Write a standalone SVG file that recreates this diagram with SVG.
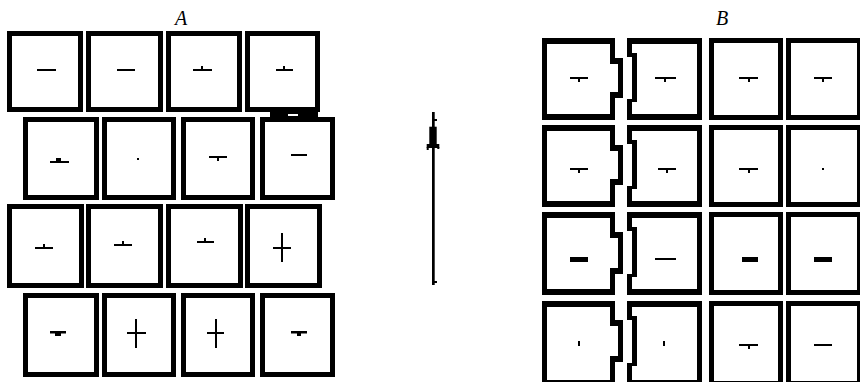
<svg xmlns="http://www.w3.org/2000/svg" width="860" height="382" viewBox="0 0 860 382">
<style>
.box{fill:none;stroke:#000;stroke-width:5}
.bx{fill:#000;fill-rule:evenodd}
.m{fill:#000}
.lbl{font-family:"Liberation Serif",serif;font-style:italic;font-size:20px;fill:#000;text-anchor:middle}
</style>
<rect width="860" height="382" fill="#fff"/>
<text class="lbl" x="181" y="25">A</text>
<text class="lbl" x="722" y="25">B</text>
<g id="A">
 <g id="a11"><rect class="box" x="9.5" y="33.5" width="71" height="76"/><rect class="m" x="37" y="69" width="19" height="2"/></g>
 <g id="a12"><rect class="box" x="88.5" y="33.5" width="72" height="76"/><rect class="m" x="117" y="69" width="18" height="2"/></g>
 <g id="a13"><rect class="box" x="168.5" y="33.5" width="71" height="76"/><rect class="m" x="193" y="69" width="19" height="2"/><rect class="m" x="201" y="66" width="2" height="3"/></g>
 <g id="a14"><rect class="box" x="247.5" y="33.5" width="70" height="76"/><rect class="m" x="276" y="69" width="17" height="2"/><rect class="m" x="283" y="66" width="2" height="3"/>
  <rect class="m" x="270" y="111" width="48" height="7"/><rect x="288" y="114" width="10" height="2" fill="#fff"/></g>
 <g id="a21"><rect class="box" x="25.5" y="119.5" width="71" height="78"/><rect class="m" x="50" y="161" width="19" height="2"/><rect class="m" x="56" y="158" width="5" height="3"/></g>
 <g id="a22"><rect class="box" x="104.5" y="119.5" width="69" height="78"/><rect class="m" x="137" y="158" width="2" height="2"/></g>
 <g id="a23"><rect class="box" x="183.5" y="119.5" width="69" height="78"/><rect class="m" x="209" y="156" width="18" height="2"/><rect class="m" x="217" y="158" width="2" height="3"/></g>
 <g id="a24"><rect class="box" x="262.5" y="119.5" width="70" height="78"/><rect class="m" x="291" y="154" width="16" height="2"/></g>
 <g id="a31"><rect class="box" x="9.5" y="206.5" width="72" height="79"/><rect class="m" x="35" y="247" width="18" height="2"/><rect class="m" x="43" y="244" width="2" height="3"/></g>
 <g id="a32"><rect class="box" x="88.5" y="206.5" width="72" height="79"/><rect class="m" x="114" y="244" width="18" height="2"/><rect class="m" x="122" y="241" width="2" height="3"/></g>
 <g id="a33"><rect class="box" x="168.5" y="206.5" width="72" height="79"/><rect class="m" x="197" y="241" width="17" height="2"/><rect class="m" x="204" y="238" width="2" height="3"/></g>
 <g id="a34"><rect class="box" x="247.5" y="206.5" width="72" height="79"/><rect class="m" x="273" y="247" width="18" height="2"/><rect class="m" x="281" y="233" width="2" height="29"/></g>
 <g id="a41"><rect class="box" x="25.5" y="295.5" width="71" height="79"/><rect class="m" x="50" y="331" width="16" height="2.5"/><rect class="m" x="55" y="333" width="6" height="3"/></g>
 <g id="a42"><rect class="box" x="104.5" y="295.5" width="69" height="79"/><rect class="m" x="127" y="332" width="19" height="2"/><rect class="m" x="135" y="319" width="2" height="29"/></g>
 <g id="a43"><rect class="box" x="183.5" y="295.5" width="69" height="79"/><rect class="m" x="207" y="332" width="17" height="2"/><rect class="m" x="215" y="319" width="2" height="29"/></g>
 <g id="a44"><rect class="box" x="262.5" y="295.5" width="70" height="79"/><rect class="m" x="291" y="331" width="16" height="2.5"/><rect class="m" x="297" y="333" width="4" height="3"/></g>
</g>
<g id="arrow">
 <rect class="m" x="432" y="112" width="2.7" height="173"/>
 <rect class="m" x="433" y="119" width="4" height="2"/>
 <rect class="m" x="429.3" y="126.7" width="7.4" height="20"/>
 <rect class="m" x="426.7" y="144" width="12.6" height="4"/>
 <rect class="m" x="426.7" y="147" width="2" height="3"/>
 <rect class="m" x="437.3" y="147" width="2" height="2"/>
 <rect class="m" x="433" y="281" width="4" height="2"/>
</g>
<g id="B">
 <g id="b11"><path class="bx" d="M542,38H615V58H623V98H615V120H542Z M547,44H610V64H618V92H610V114H547Z"/><rect class="m" x="570" y="77" width="18" height="2"/><rect class="m" x="578" y="79" width="2" height="3"/></g>
 <g id="b12"><path class="bx" d="M627,38H702V120H627V99H632V57H627Z M632,44H697V114H632V102H637V53H632Z"/><rect class="m" x="655" y="77" width="21" height="2"/><rect class="m" x="664" y="79" width="2" height="3"/></g>
 <g id="b13"><rect class="box" x="711.5" y="40.5" width="69" height="77"/><rect class="m" x="739" y="77" width="19" height="2"/><rect class="m" x="748" y="79" width="2" height="3"/></g>
 <g id="b14"><rect class="box" x="788.5" y="40.5" width="71" height="77"/><rect class="m" x="814" y="77" width="18" height="2"/><rect class="m" x="822" y="79" width="2" height="3"/></g>

 <g id="b21"><path class="bx" d="M542,125H615V145H623V185H615V207H542Z M547,131H610V151H618V179H610V201H547Z"/><rect class="m" x="570" y="168" width="18" height="2"/><rect class="m" x="578" y="170" width="2" height="3"/></g>
 <g id="b22"><path class="bx" d="M627,125H702V207H627V186H632V144H627Z M632,131H697V201H632V189H637V140H632Z"/><rect class="m" x="658" y="168" width="18" height="2"/><rect class="m" x="666" y="170" width="2" height="3"/></g>
 <g id="b23"><rect class="box" x="711.5" y="127.5" width="69" height="77"/><rect class="m" x="739" y="168" width="19" height="2"/><rect class="m" x="748" y="170" width="2" height="3"/></g>
 <g id="b24"><rect class="box" x="788.5" y="127.5" width="71" height="77"/><rect class="m" x="822" y="168" width="2" height="2"/></g>

 <g id="b31"><path class="bx" d="M542,212H615V232H623V274H615V295H542Z M547,218H610V238H618V268H610V289H547Z"/><rect class="m" x="570" y="257" width="18" height="5"/></g>
 <g id="b32"><path class="bx" d="M627,212H702V295H627V274H632V231H627Z M632,218H697V289H632V277H637V227H632Z"/><rect class="m" x="655" y="258" width="21" height="2"/></g>
 <g id="b33"><rect class="box" x="711.5" y="214.5" width="69" height="78"/><rect class="m" x="742" y="257" width="16" height="5"/></g>
 <g id="b34"><rect class="box" x="788.5" y="214.5" width="71" height="78"/><rect class="m" x="814" y="257" width="18" height="5"/></g>

 <g id="b41"><path class="bx" d="M542,301H615V320H623V362H615V386H542Z M547,307H610V326H618V356H610V380H547Z"/><rect class="m" x="578" y="341" width="2" height="5"/></g>
 <g id="b42"><path class="bx" d="M627,301H702V386H627V363H632V320H627Z M632,307H697V380H632V366H637V316H632Z"/><rect class="m" x="663" y="341" width="2" height="5"/></g>
 <g id="b43"><rect class="box" x="711.5" y="303.5" width="69" height="80"/><rect class="m" x="739" y="344" width="19" height="2"/><rect class="m" x="748" y="346" width="2" height="3"/></g>
 <g id="b44"><rect class="box" x="788.5" y="303.5" width="71" height="80"/><rect class="m" x="814" y="344" width="18" height="2"/></g>
</g>
</svg>
